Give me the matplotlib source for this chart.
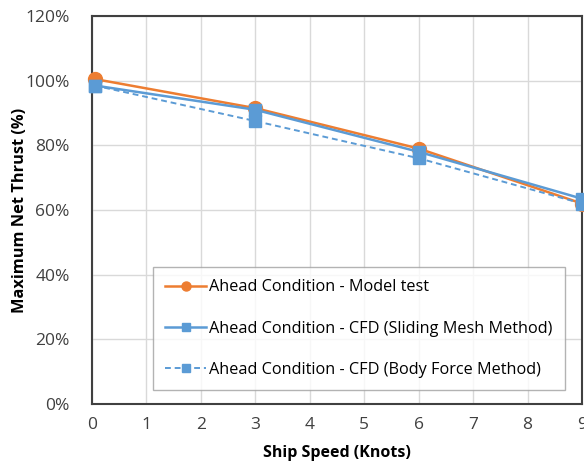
import matplotlib
matplotlib.use("Agg")
import matplotlib.pyplot as plt
from matplotlib.ticker import PercentFormatter

plt.rcParams['font.family'] = ['Open Sans', 'DejaVu Sans']

# ship speed (knots)
speed = [0.05, 3, 6, 9]
# maximum net thrust (%)
model_test = [100.5, 91.5, 79, 62]
cfd_sliding = [98.5, 91, 78, 63.5]
cfd_body = [98.5, 87.5, 76, 62]

fig = plt.figure(figsize=(5.84, 4.66), dpi=100)
ax = fig.add_axes([0.1575, 0.133, 0.8391, 0.8327])

orange = '#ED7D31'
blue = '#5B9BD5'

ax.plot(speed, model_test, color=orange, lw=1.8, marker='o', ms=10,
        label='Ahead Condition - Model test', zorder=3, clip_on=False)
ax.plot(speed, cfd_sliding, color=blue, lw=1.8, marker='s', ms=8.5,
        label='Ahead Condition - CFD (Sliding Mesh Method)', zorder=4, clip_on=False)
ax.plot(speed, cfd_body, color=blue, lw=1.4, ls=(0, (3, 2)), marker='s', ms=8.5,
        label='Ahead Condition - CFD (Body Force Method)', zorder=4, clip_on=False)

ax.set_xlim(0, 9)
ax.set_ylim(0, 120)
ax.set_xticks(range(10))
ax.set_yticks(range(0, 121, 20))
ax.yaxis.set_major_formatter(PercentFormatter(decimals=0))
ax.grid(True, color='#d9d9d9', lw=1)
ax.set_axisbelow(True)
for s in ax.spines.values():
    s.set_color('#404040')
    s.set_linewidth(1.5)
ax.tick_params(length=0, labelsize=12.5, colors='#404040')
ax.tick_params(axis='y', pad=16)
ax.tick_params(axis='x', pad=9)

ax.set_xlabel('Ship Speed (Knots)', fontsize=11.5, fontweight='bold', labelpad=9)
ax.set_ylabel('Maximum Net Thrust (%)', fontsize=11.8, fontweight='bold')
ax.yaxis.set_label_coords(-0.13, 0.5)

leg = ax.legend(loc='lower left', bbox_to_anchor=(0.125, 0.036), fontsize=11.7,
                frameon=True, fancybox=False, edgecolor='#a0a0a0',
                borderaxespad=0, handlelength=2.5, labelspacing=1.55,
                borderpad=0.75, handletextpad=0.2, markerscale=0.65)
leg.get_frame().set_linewidth(1.0)

fig.savefig('out.png', dpi=100)
